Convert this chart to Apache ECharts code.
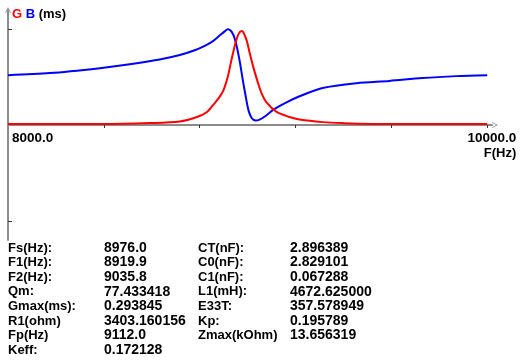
<!DOCTYPE html>
<html><head><meta charset="utf-8">
<script src="https://cdn.jsdelivr.net/npm/echarts@6/dist/echarts.min.js"></script>
<style>html,body{margin:0;padding:0;background:#fff}#c{width:523px;height:362px}</style>
</head><body><div id="c"></div>
<script>
// Susceptance B (ms)
const freqB = [8000,8175,8383,8508,8633,8717,8779,8821,8854,8883,8904,8917,8929,8942,8954,8967,8979,8992,9004,9017,9033,9050,9075,9108,9154,9217,9313,9454,9592,9729,9871,10000];
const valB  = [0.156,0.1625,0.178,0.190,0.205,0.219,0.234,0.248,0.262,0.280,0.293,0.300,0.296,0.280,0.248,0.200,0.145,0.090,0.045,0.022,0.014,0.017,0.028,0.048,0.068,0.090,0.116,0.131,0.138,0.147,0.153,0.156];
// Conductance G (ms)
const freqG = [8000,8383,8592,8717,8788,8829,8862,8883,8900,8917,8933,8950,8963,8976,8983,8996,9008,9025,9042,9058,9079,9121,9175,9217,9313,9396,9592,10000];
const valG  = [0.003,0.003,0.006,0.011,0.025,0.040,0.068,0.088,0.110,0.150,0.205,0.258,0.286,0.294,0.289,0.265,0.228,0.178,0.135,0.100,0.071,0.041,0.025,0.017,0.009,0.006,0.003,0.003];

const xTickValues = [8400, 8800, 9200, 9600, 10000];
const xLabelValues = [8000, 10000];
const yTickValues = [-0.3, 0.3];
const xAxisName = 'F(Hz)';

const tableLabels1 = ['Fs(Hz):','F1(Hz):','F2(Hz):','Qm:','Gmax(ms):','R1(ohm)','Fp(Hz)','Keff:'];
const tableValues1 = ['8976.0','8919.9','9035.8','77.433418','0.293845','3403.160156','9112.0','0.172128'];
const tableLabels2 = ['CT(nF):','C0(nF):','C1(nF):','L1(mH):','E33T:','Kp:','Zmax(kOhm)'];
const tableValues2 = ['2.896389','2.829101','0.067288','4672.625000','357.578949','0.195789','13.656319'];

const FONT = '"Liberation Sans", Arial, sans-serif';
const axisGray = '#8c8c8c';
const chevUp = 'path://M0,10 L5,0 L10,10 L8.6,10 L5,2.8 L1.4,10 Z';

const chart = echarts.init(document.getElementById('c'), null, {renderer: 'canvas'});
const option = {
  animation: false,
  backgroundColor: '#fff',
  grid: {left: 8, right: 31, top: 10, bottom: 122, containLabel: false},
  xAxis: {
    type: 'value', min: 8000, max: 10020,
    splitLine: {show: false},
    axisLine: {onZero: true, lineStyle: {color: axisGray, width: 2}, symbol: ['none', chevUp], symbolSize: [8, 6], symbolOffset: [0, 3]},
    axisTick: {show: true, customValues: xTickValues, length: 3, lineStyle: {color: '#333', width: 1}},
    axisLabel: {show: false}
  },
  yAxis: {
    type: 'value', min: -0.36, max: 0.36,
    splitLine: {show: false},
    axisLine: {lineStyle: {color: axisGray, width: 2}, symbol: ['none', chevUp], symbolSize: [8, 6], symbolOffset: [0, 0]},
    axisTick: {show: true, inside: true, customValues: yTickValues, length: 4, lineStyle: {color: '#333', width: 1}},
    axisLabel: {show: false}
  },
  series: [
    {type: 'line', name: 'B', data: freqB.map((f, i) => [f, valB[i]]), showSymbol: false, smooth: 0.3,
     lineStyle: {color: '#0000ff', width: 2}, z: 5},
    {type: 'line', name: 'G', data: freqG.map((f, i) => [f, valG[i]]), showSymbol: false, smooth: 0.3,
     lineStyle: {color: '#ff0000', width: 2}, z: 6}
  ]
};
chart.setOption(option);

const graphics = [];
const yZero = chart.convertToPixel({yAxisIndex: 0}, 0);
xLabelValues.forEach((v, i) => {
  const px = chart.convertToPixel({xAxisIndex: 0}, v);
  const last = i === xLabelValues.length - 1;
  graphics.push({type: 'text', x: last ? px + 29 : px + 4, y: yZero + 13,
    style: {text: v.toFixed(1), font: 'bold 13.5px ' + FONT, fill: '#000', align: last ? 'right' : 'left', verticalAlign: 'middle'}});
});
const pxEnd = chart.convertToPixel({xAxisIndex: 0}, 10000);
graphics.push({type: 'text', x: pxEnd + 29, y: yZero + 28,
  style: {text: xAxisName, font: 'bold 13px ' + FONT, fill: '#000', align: 'right', verticalAlign: 'middle'}});
graphics.push({type: 'text', x: 12, y: 14, style: {
  text: '{g|G} {b|B} {k|(ms)}', verticalAlign: 'middle', align: 'left',
  rich: {g: {fill: '#ff0000', font: 'bold 13px ' + FONT}, b: {fill: '#0000ff', font: 'bold 13px ' + FONT}, k: {fill: '#000', font: 'bold 13px ' + FONT}},
  font: 'bold 13px ' + FONT}});
const rowY0 = 248, rowH = 14.6;
const cols = [[tableLabels1, 8, 13], [tableValues1, 104, 14], [tableLabels2, 198, 13], [tableValues2, 290, 14]];
cols.forEach(([arr, cx, fs]) => {
  arr.forEach((t, i) => {
    graphics.push({type: 'text', x: cx, y: rowY0 + i * rowH,
      style: {text: t, font: 'bold ' + fs + 'px ' + FONT, fill: '#000', align: 'left', verticalAlign: 'middle'}});
  });
});
chart.setOption({graphic: graphics});
</script></body></html>
